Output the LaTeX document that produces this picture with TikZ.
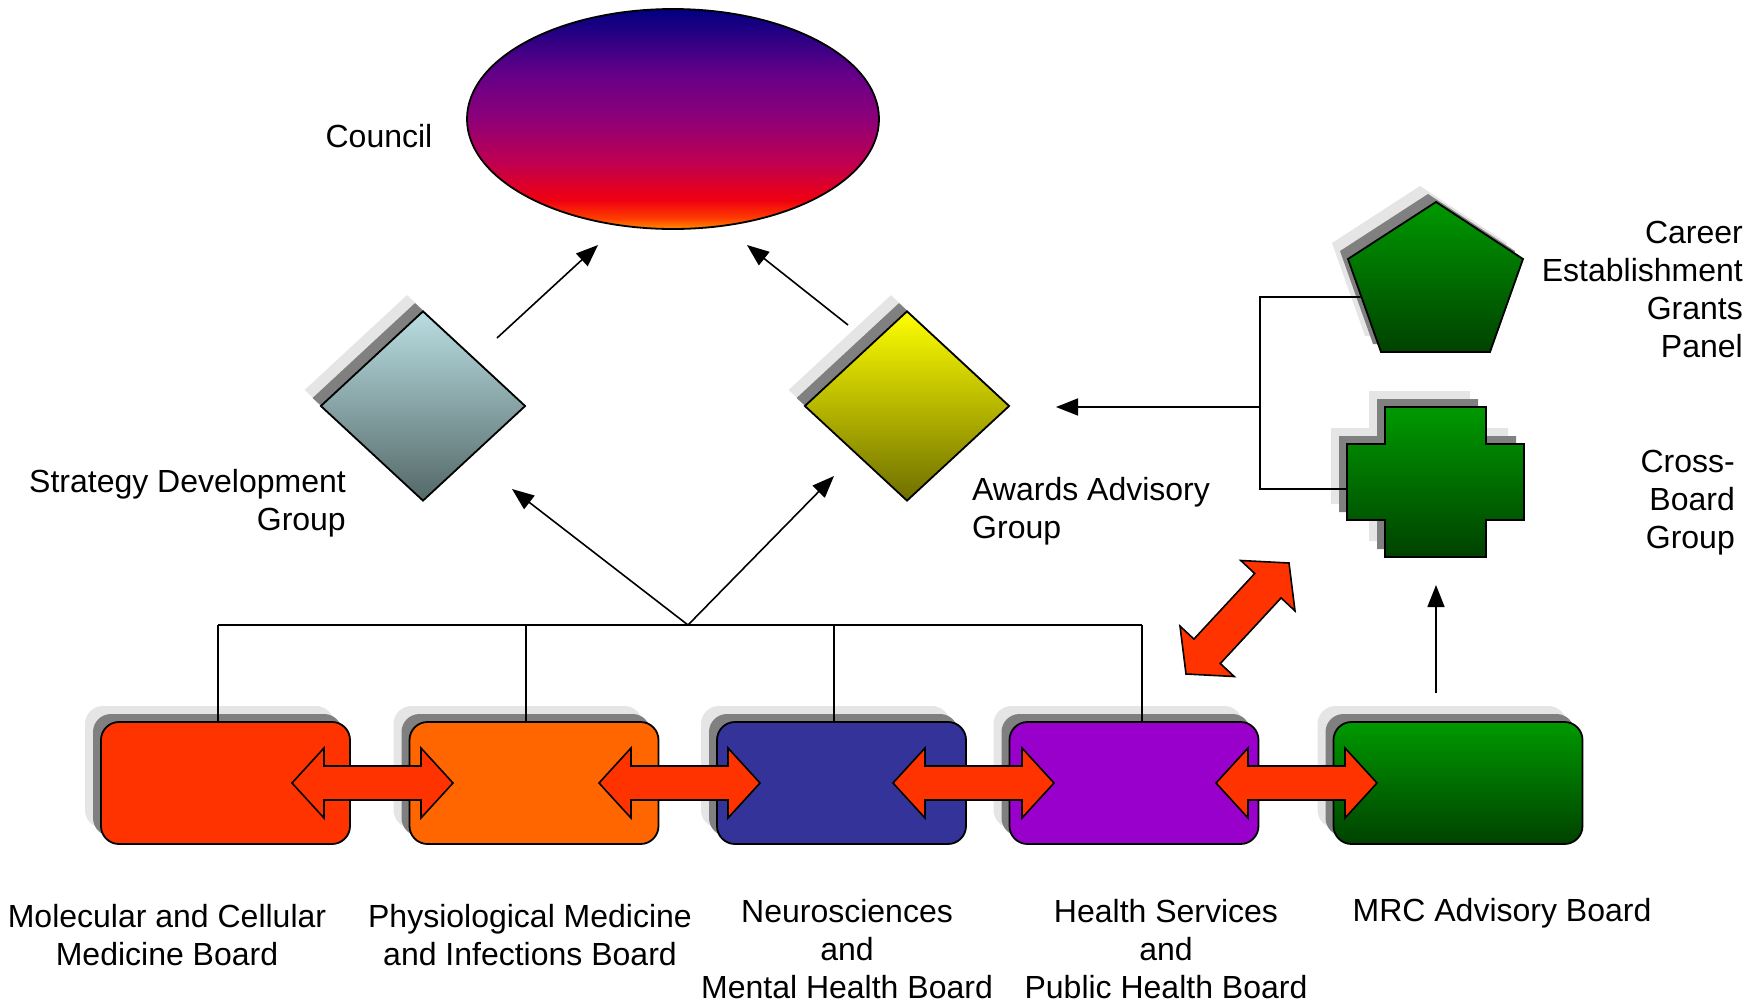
\documentclass[tikz,border=0pt]{standalone}
\usepackage{fontspec}
\setmainfont{Liberation Sans}
\usetikzlibrary{shapes.geometric,arrows.meta}
\definecolor{cOr}{RGB}{255,140,0}
\definecolor{cOr2}{RGB}{255,60,0}
\definecolor{cRed}{RGB}{240,0,16}
\definecolor{cCrim}{RGB}{192,0,79}
\definecolor{cMag}{RGB}{142,0,120}
\definecolor{cPur}{RGB}{102,0,136}
\definecolor{cNavy}{RGB}{0,0,128}
\definecolor{shL}{RGB}{229,229,229}
\definecolor{shD}{RGB}{128,128,128}
\definecolor{fatred}{RGB}{255,51,0}
\definecolor{boxA}{RGB}{255,51,0}
\definecolor{boxB}{RGB}{255,102,0}
\definecolor{boxC}{RGB}{51,51,153}
\definecolor{boxD}{RGB}{153,0,204}
\definecolor{gTop}{RGB}{0,153,0}
\definecolor{gBot}{RGB}{0,66,0}
\definecolor{sTop}{RGB}{186,222,226}
\definecolor{sBot}{RGB}{84,104,104}
\definecolor{yTop}{RGB}{255,255,0}
\definecolor{yBot}{RGB}{110,110,0}
\pgfdeclareverticalshading{councilshade}{100bp}{color(0bp)=(cOr); color(25bp)=(cOr); color(27.5bp)=(cOr2); color(31.5bp)=(cRed); color(40bp)=(cCrim); color(50bp)=(cMag); color(60bp)=(cPur); color(75bp)=(cNavy); color(100bp)=(cNavy)}
\begin{document}
\begin{tikzpicture}[x=1pt,y=-1pt,
  every node/.style={font=\fontsize{32}{38}\selectfont},
  outl/.style={draw=black, line width=1.8pt},
  conn/.style={line width=1.6pt},
  arr/.style={conn, -{Triangle[length=22pt,width=17pt]}},
  shadowL/.style={fill=shL, draw=none},
  shadowD/.style={fill=shD, draw=none},
  board/.style={rectangle, rounded corners=18pt, minimum width=249pt, minimum height=122pt, inner sep=0pt},
  dia/.style={diamond, minimum width=205pt, minimum height=190pt, inner sep=0pt},
  fat/.style={fill=fatred, draw=black, line width=1.6pt, line join=miter},
  lbl/.style={inner sep=0pt}
]
\useasboundingbox (0,0) rectangle (1762,1005);

% ---------- Council ----------
\node[ellipse, minimum width=412pt, minimum height=220pt, inner sep=0pt, outl, shading=councilshade] (council) at (673,119) {};

% ---------- Diamonds ----------
\node[dia, shadowL] (sdgL) at (407,390) {};
\node[dia, shadowD] (sdgD) at (415,398) {};
\node[dia, outl, top color=sTop, bottom color=sBot] (sdg) at (423,406) {};
\node[dia, shadowL] (aagL) at (891,390) {};
\node[dia, shadowD] (aagD) at (899,398) {};
\node[dia, outl, top color=yTop, bottom color=yBot] (aag) at (907,406) {};

% ---------- Pentagon ----------
\foreach \dx/\col in {-16/shL,-8/shD}{
  \fill[\col, shift={(\dx,\dx)}] (1436,202) -- (1523,259) -- (1490,352) -- (1381,352) -- (1348,259) -- cycle;
}
\path[outl, top color=gTop, bottom color=gBot] (1436,202) -- (1523,259) -- (1490,352) -- (1381,352) -- (1348,259) -- cycle;
\coordinate (cegp) at (1436,285);

% ---------- Cross ----------
\foreach \dx/\col in {-16/shL,-8/shD}{
  \fill[\col, shift={(\dx,\dx)}] (1385,407) -- (1486,407) -- (1486,444) -- (1524,444) -- (1524,520) -- (1486,520) -- (1486,557) -- (1385,557) -- (1385,520) -- (1347,520) -- (1347,444) -- (1385,444) -- cycle;
}
\path[outl, top color=gTop, bottom color=gBot] (1385,407) -- (1486,407) -- (1486,444) -- (1524,444) -- (1524,520) -- (1486,520) -- (1486,557) -- (1385,557) -- (1385,520) -- (1347,520) -- (1347,444) -- (1385,444) -- cycle;
\coordinate (cbg) at (1435,482);

% ---------- Boards ----------
\foreach \n/\x in {b1/225.5,b2/534,b3/841.5,b4/1134,b5/1458}{
  \node[board, shadowL] (\n L) at (\x-16,767) {};
  \node[board, shadowD] (\n D) at (\x-8,775) {};
}
\node[board, outl, fill=boxA] (b1) at (225.5,783) {};
\node[board, outl, fill=boxB] (b2) at (534,783) {};
\node[board, outl, fill=boxC] (b3) at (841.5,783) {};
\node[board, outl, fill=boxD] (b4) at (1134,783) {};
\node[board, outl, top color=gTop, bottom color=gBot] (b5) at (1458,783) {};

% ---------- Connector coordinates ----------
\coordinate (sdgOut) at (497,338);
\coordinate (cIn1) at (598,245);
\coordinate (aagOut) at (848,325);
\coordinate (cIn2) at (747,245);
\coordinate (hub) at (688,625);
\coordinate (sdgIn) at (512,489);
\coordinate (aagIn) at (834,476);
\coordinate (bus1) at (218,625);
\coordinate (bus2) at (526,625);
\coordinate (bus3) at (834,625);
\coordinate (bus4) at (1142,625);
\coordinate (brTop) at (1260,297);
\coordinate (brBot) at (1260,489);
\coordinate (brMid) at (1260,407);
\coordinate (aagIn2) at (1056,407);
\coordinate (pentL) at (1361,297);
\coordinate (crossL) at (1347,489);
\coordinate (mrcOut) at (1436,693);
\coordinate (cbgIn) at (1436,585);

% ---------- Connectors ----------
\draw[arr] (sdgOut) -- (cIn1);
\draw[arr] (aagOut) -- (cIn2);
\draw[arr] (hub) -- (sdgIn);
\draw[arr] (hub) -- (aagIn);
\draw[conn] (bus1) -- (bus4);
\draw[conn] (bus1) -- (bus1 |- b1.north);
\draw[conn] (bus2) -- (bus2 |- b2.north);
\draw[conn] (bus3) -- (bus3 |- b3.north);
\draw[conn] (bus4) -- (bus4 |- b4.north);
\draw[conn] (pentL) -- (brTop) -- (brBot) -- (crossL);
\draw[arr] (brMid) -- (aagIn2);
\draw[arr] (mrcOut) -- (cbgIn);

% ---------- Fat double arrows ----------
\foreach \L/\R in {292/453,599/760,893/1054,1216/1377}{
  \path[fat] (\L,783) -- (\L+32,748) -- (\L+32,766) -- (\R-32,766) -- (\R-32,748) -- (\R,783) -- (\R-32,818) -- (\R-32,800) -- (\L+32,800) -- (\L+32,818) -- cycle;
}
\path[fat] (1289.0,563.0) -- (1295.0,610.9) -- (1281.1,597.9) -- (1220.3,663.5) -- (1234.2,676.5) -- (1186.0,674.0) -- (1180.0,626.1) -- (1193.9,639.1) -- (1254.7,573.5) -- (1240.8,560.5) -- cycle;

% ---------- Labels ----------
\node[lbl] (tCouncil) at (379,136) {Council};
\node[lbl, align=right, anchor=east] (tSdg) at (346,503) {Strategy Development\\Group};
\node[lbl, align=left, anchor=west] (tAag) at (972,511) {Awards Advisory\\Group};
\node[lbl, align=right, anchor=east] (tCegp) at (1743,289) {Career\\Establishment\\Grants\\Panel};
\node[lbl, align=right, anchor=east] (tCbg) at (1735,503) {Cross-\\Board\\Group};
\node[lbl, align=center] (t1) at (167,935) {Molecular and Cellular\\Medicine Board};
\node[lbl, align=center] (t2) at (530,935) {Physiological Medicine\\and Infections Board};
\node[lbl, align=center] (t3) at (847,949) {Neurosciences\\and\\Mental Health Board};
\node[lbl, align=center] (t4) at (1166,949) {Health Services\\and\\Public Health Board};
\node[lbl] (t5) at (1502,913) {MRC Advisory Board};
\end{tikzpicture}
\end{document}
